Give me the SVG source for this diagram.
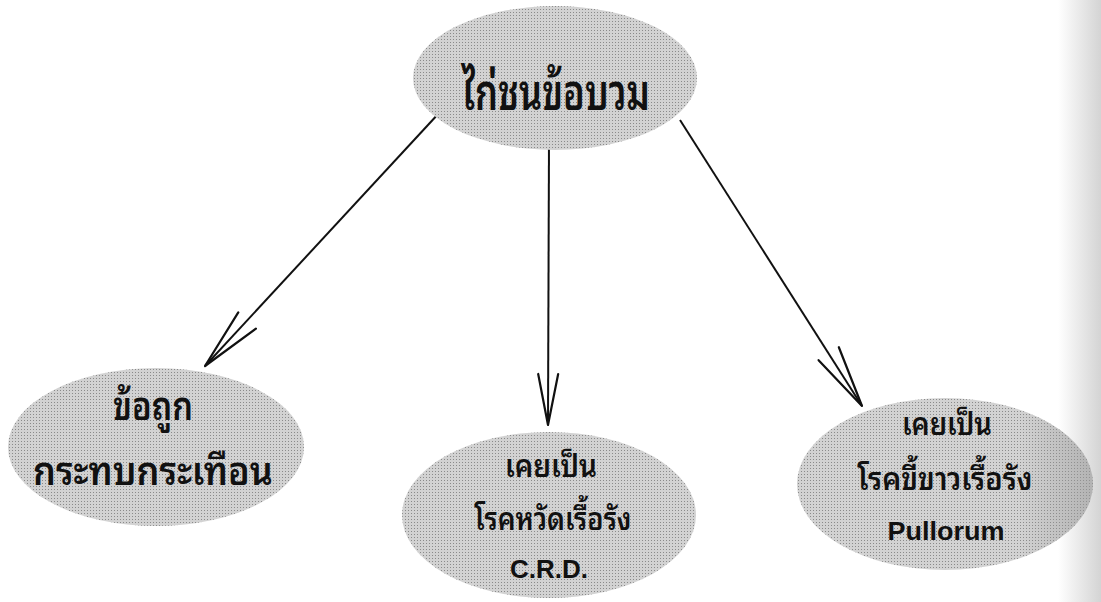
<svg xmlns="http://www.w3.org/2000/svg" width="1101" height="602" viewBox="0 0 1101 602">
  <defs>
    <pattern id="ht" width="3" height="3" patternUnits="userSpaceOnUse">
      <rect width="3" height="3" fill="#d2d2d2"/>
      <rect x="0" y="0" width="1" height="1" fill="#8a8a8a"/>
    </pattern>
    <linearGradient id="shadeR" x1="0" y1="0" x2="1" y2="0">
      <stop offset="0.75" stop-color="#9a9a9a" stop-opacity="0"/>
      <stop offset="1" stop-color="#9a9a9a" stop-opacity="0.55"/>
    </linearGradient>
    <linearGradient id="edge" x1="0" y1="0" x2="1" y2="0">
      <stop offset="0" stop-color="#cfcfcf" stop-opacity="0"/>
      <stop offset="1" stop-color="#cfcfcf" stop-opacity="0.9"/>
    </linearGradient>
    <marker id="vee" viewBox="-66 -16 70 32" markerWidth="70" markerHeight="32" refX="0" refY="0" orient="auto" markerUnits="userSpaceOnUse">
      <path d="M-62,-12 L0,0 L-62,12" fill="none" stroke="#111" stroke-width="2.2" stroke-linejoin="round" stroke-linecap="round"/>
    </marker>
    <marker id="veeS" viewBox="-66 -16 70 32" markerWidth="70" markerHeight="32" refX="0" refY="0" orient="auto" markerUnits="userSpaceOnUse">
      <path d="M-51,-10 L0,0 L-51,10" fill="none" stroke="#111" stroke-width="2.2" stroke-linejoin="round" stroke-linecap="round"/>
    </marker>
  </defs>
  <style>
    .node { fill: url(#ht); }
    .conn { fill: none; stroke: #111; stroke-width: 2; }
    .th { font-family: "Noto Sans Thai Looped", "Noto Serif Thai", "Loma", "Garuda", "Noto Sans Thai", "Noto Sans", sans-serif; font-weight: 600; fill: #111; text-anchor: middle; }
    .en { font-family: "Liberation Sans", Arial, sans-serif; font-weight: bold; fill: #111; text-anchor: middle; }
  </style>

  <rect width="1101" height="602" fill="#ffffff"/>
  <rect x="1058" y="0" width="43" height="602" fill="url(#edge)"/>

  <g id="connectors">
    <line class="conn" x1="440" y1="112" x2="205" y2="366" marker-end="url(#vee)"/>
    <line class="conn" x1="549" y1="140" x2="548" y2="425" marker-end="url(#veeS)"/>
    <line class="conn" x1="680" y1="120" x2="862" y2="406" marker-end="url(#vee)"/>
  </g>

  <g id="node-top">
    <ellipse class="node" cx="555" cy="78" rx="142" ry="72"/>
    <text class="th" x="556" y="110" font-size="50" textLength="188" lengthAdjust="spacingAndGlyphs">ไก่ชนข้อบวม</text>
  </g>

  <g id="node-left">
    <ellipse class="node" cx="156" cy="447" rx="148" ry="79"/>
    <text class="th" x="153" y="420" font-size="40" textLength="80" lengthAdjust="spacingAndGlyphs">ข้อถูก</text>
    <text class="th" x="153" y="485" font-size="40" textLength="240" lengthAdjust="spacingAndGlyphs">กระทบกระเทือน</text>
  </g>

  <g id="node-middle">
    <ellipse class="node" cx="549" cy="515" rx="147" ry="83"/>
    <text class="th" x="551" y="477" font-size="31" textLength="92" lengthAdjust="spacingAndGlyphs">เคยเป็น</text>
    <text class="th" x="553" y="530" font-size="31" textLength="157" lengthAdjust="spacingAndGlyphs">โรคหวัดเรื้อรัง</text>
    <text class="en" x="549" y="578" font-size="25" textLength="78" lengthAdjust="spacingAndGlyphs">C.R.D.</text>
  </g>

  <g id="node-right">
    <ellipse class="node" cx="945" cy="484" rx="148" ry="86"/>
    <ellipse cx="945" cy="484" rx="148" ry="86" fill="url(#shadeR)"/>
    <text class="th" x="947" y="435" font-size="31" textLength="90" lengthAdjust="spacingAndGlyphs">เคยเป็น</text>
    <text class="th" x="945" y="490" font-size="31" textLength="175" lengthAdjust="spacingAndGlyphs">โรคขี้ขาวเรื้อรัง</text>
    <text class="en" x="946" y="540" font-size="26" textLength="117" lengthAdjust="spacingAndGlyphs">Pullorum</text>
  </g>
</svg>
